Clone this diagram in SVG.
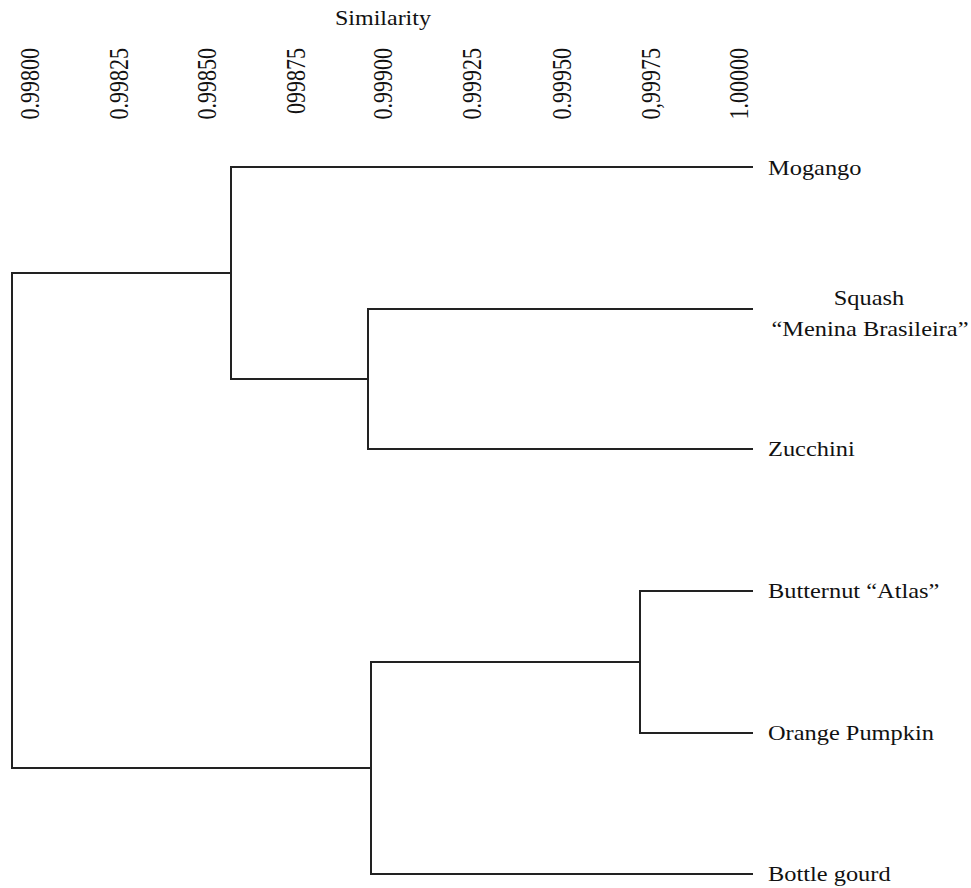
<svg xmlns="http://www.w3.org/2000/svg" width="971" height="888" viewBox="0 0 971 888">
<style>
text { font-family: "Liberation Serif", "Times New Roman", serif; fill: #111; }
.lbl { font-size: 20px; }
.tick { font-size: 22px; text-anchor: end; }
.conn { fill: none; stroke: #222; stroke-width: 2; stroke-linecap: square; }
</style>
<rect width="971" height="888" fill="#fff"/>
<g id="axis">
  <text class="lbl" transform="translate(335,25) scale(1.2,1)">Similarity</text>
  <text class="tick" transform="translate(39,48) scale(1.2,1) rotate(-90)">0.99800</text>
  <text class="tick" transform="translate(128,48) scale(1.2,1) rotate(-90)">0.99825</text>
  <text class="tick" transform="translate(216,48) scale(1.2,1) rotate(-90)">0.99850</text>
  <text class="tick" transform="translate(305,48) scale(1.2,1) rotate(-90)">099875</text>
  <text class="tick" transform="translate(392,48) scale(1.2,1) rotate(-90)">0.99900</text>
  <text class="tick" transform="translate(481,48) scale(1.2,1) rotate(-90)">0.99925</text>
  <text class="tick" transform="translate(571,48) scale(1.2,1) rotate(-90)">0.99950</text>
  <text class="tick" transform="translate(660,48) scale(1.2,1) rotate(-90)">0,99975</text>
  <text class="tick" transform="translate(748,48) scale(1.2,1) rotate(-90)">1.00000</text>
</g>
<g id="connectors">
  <path class="conn" d="M752,167 H231 V379 H368"/>
  <path class="conn" d="M12,273 H231"/>
  <path class="conn" d="M12,273 V768 H371"/>
  <path class="conn" d="M752,309 H368 V449 H752"/>
  <path class="conn" d="M752,591 H640 V733 H752"/>
  <path class="conn" d="M640,662 H371 V874 H752"/>
</g>
<g id="mogango"><text class="lbl" transform="translate(768,175) scale(1.22,1)">Mogango</text></g>
<g id="squash">
  <text class="lbl" text-anchor="middle" transform="translate(869,305) scale(1.22,1)">Squash</text>
  <text class="lbl" text-anchor="middle" transform="translate(870,336) scale(1.22,1)">“Menina Brasileira”</text>
</g>
<g id="zucchini"><text class="lbl" transform="translate(768,456) scale(1.22,1)">Zucchini</text></g>
<g id="butternut"><text class="lbl" transform="translate(768,598) scale(1.22,1)">Butternut “Atlas”</text></g>
<g id="orange-pumpkin"><text class="lbl" transform="translate(768,740) scale(1.22,1)">Orange Pumpkin</text></g>
<g id="bottle-gourd"><text class="lbl" transform="translate(768,881) scale(1.22,1)">Bottle gourd</text></g>
</svg>
